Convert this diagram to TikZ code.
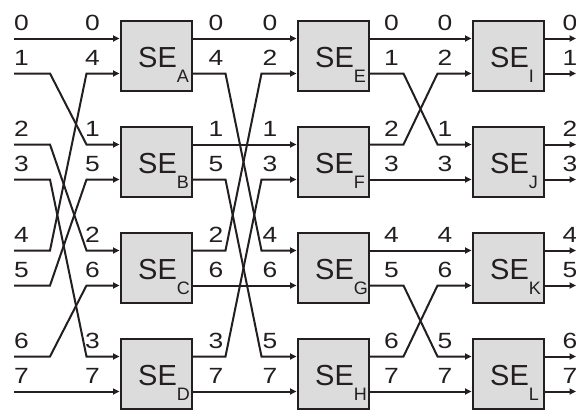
\documentclass[tikz,border=0pt]{standalone}
\usepackage{graphicx}
\usepackage{fontspec}
\setmainfont{Liberation Sans}
\usetikzlibrary{arrows.meta,calc}
\definecolor{ink}{HTML}{231F20}
\definecolor{boxfill}{HTML}{DCDCDC}
\newcommand{\dig}[1]{\scalebox{1.2}[1]{#1}}
\begin{document}
\begin{tikzpicture}[x=1pt,y=-1pt,
  sebox/.style={draw=ink,fill=boxfill,line width=2pt,minimum width=71pt,minimum height=70pt,inner sep=0pt},
  wire/.style={draw=ink,line width=2pt},
  arr/.style={-{Triangle[length=6.5pt,width=6pt]}},
  num/.style={font=\fontsize{22}{22}\selectfont,text=ink,anchor=base,inner sep=0pt},
  selab/.style={font=\fontsize{29}{29}\selectfont,text=ink,anchor=base west,inner sep=0pt}]
\useasboundingbox (0,0) rectangle (576,410);
\clip (0,0) rectangle (576,410);
% boxes
\foreach \n/\x/\y in {A/156/56,B/156/162,C/156/268,D/156/374,
                      E/333/56,F/333/162,G/333/268,H/333/374,
                      I/508/56,J/508/162,K/508/268,L/508/374} {
  \node[sebox] (\n) at (\x,\y) {};
  \node[selab] (\n-t) at (\x-18,\y+11) {SE\raisebox{-15pt}{\fontsize{18}{18}\selectfont \n}};
  \path (\n.west) ++(0,-17.5) coordinate (\n-i0) ++(0,35) coordinate (\n-i1);
  \path (\n.east) ++(0,-17.5) coordinate (\n-o0) ++(0,35) coordinate (\n-o1);
}
% free ends
\foreach \y [count=\k from 0] in {38.5,73.5,144.5,179.5,250.5,285.5,356.5,391.5} {
  \coordinate (in\k) at (14,\y);
  \coordinate (out\k) at (576,\y);
}
% stage 1
\draw[wire,arr] (in0) -- (A-i0);
\draw[wire,arr] (in7) -- (D-i1);
\foreach \s/\t in {1/B-i0,2/C-i0,3/D-i0,4/A-i1,5/B-i1,6/C-i1}
  \draw[wire,arr] (in\s) -- ++(36,0) -- ($(\t)+(-33,0)$) -- (\t);
% stage 2
\foreach \s/\t in {A-o0/E-i0,B-o0/F-i0,C-o1/G-i1,D-o1/H-i1}
  \draw[wire,arr] (\s) -- (\t);
\foreach \s/\t in {A-o1/G-i0,B-o1/H-i0,C-o0/E-i1,D-o0/F-i1}
  \draw[wire,arr] (\s) -- ++(33,0) -- ($(\t)+(-35,0)$) -- (\t);
% stage 3
\foreach \s/\t in {E-o0/I-i0,F-o1/J-i1,G-o0/K-i0,H-o1/L-i1}
  \draw[wire,arr] (\s) -- (\t);
\foreach \s/\t in {E-o1/J-i0,F-o0/I-i1,G-o1/L-i0,H-o0/K-i1}
  \draw[wire,arr] (\s) -- ++(34,0) -- ($(\t)+(-34,0)$) -- (\t);
% outputs
\foreach \b/\k/\m in {I/0/1,J/2/3,K/4/5,L/6/7} {
  \draw[wire,arr] (\b-o0) -- (out\k);
  \draw[wire,arr] (\b-o1) -- (out\m);
}
% labels
\foreach \x/\c/\labs in {21.5/a/{0,1,2,3,4,5,6,7},
                         92.5/b/{0,4,1,5,2,6,3,7},
                         216/c/{0,4,1,5,2,6,3,7},
                         270/d/{0,2,1,3,4,6,5,7},
                         391.5/e/{0,1,2,3,4,5,6,7},
                         445/f/{0,2,1,3,4,6,5,7},
                         570/g/{0,1,2,3,4,5,6,7}} {
  \foreach \v [count=\k from 0] in \labs {
    \pgfmathsetmacro\ly{38.5+106*floor(\k/2)+35*mod(\k,2)-8}
    \node[num] (lab-\c\k) at (\x,\ly) {\dig{\v}};
  }
}
\end{tikzpicture}
\end{document}
